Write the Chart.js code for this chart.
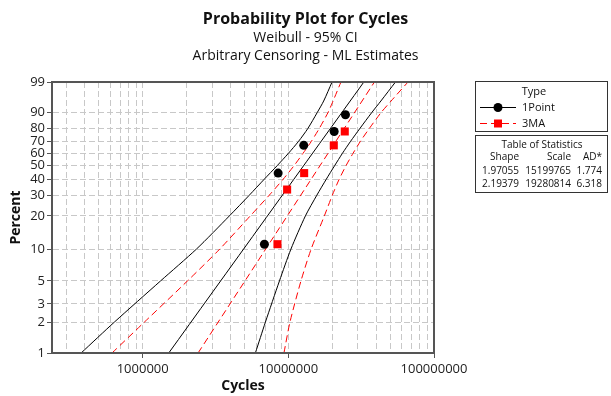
<!doctype html>
<html lang="en">
  <head>
    <meta charset="utf-8">
    <title>Probability Plot for Cycles</title>
    <style>
      * {
        margin: 0;
        padding: 0;
      }
      body {
        background: #ffffff;
      }
    </style>
  </head>
  <body>
    <canvas id="myChart" width="611" height="396"></canvas>
    <script src="https://cdn.jsdelivr.net/npm/chart.js"></script>
    <script>
    // values
    const xLabels = [1000000, 10000000, 100000000];
    const yTicks = [1, 2, 3, 5, 10, 20, 30, 40, 50, 60, 70, 80, 90, 99];

    const onePointCycles = [6.85e6, 8.51e6, 1.276e7, 2.064e7, 2.467e7];
    const onePointPct = [11.1, 44.4, 66.7, 77.8, 88.9];
    const threeMaCycles = [8.42e6, 9.81e6, 1.284e7, 2.051e7, 2.44e7];
    const threeMaPct = [11.1, 33.3, 44.4, 66.7, 77.8];

    // fitted lines (ends at 1% and 99%)
    const fitPct = [1, 99];
    const onePointFit = [1.51e6, 3.30e7];
    const threeMaFit = [2.40e6, 3.90e7];

    // 95% CI bands, read at the percent grid
    const bandPct = [1, 2, 5, 10, 20, 30, 40, 50, 60, 70, 80, 90, 95, 99];
    const onePointLo = [3.78e5, 6.39e5, 1.327e6, 2.34e6, 3.94e6, 5.40e6, 6.83e6, 8.37e6, 1.0e7, 1.175e7, 1.361e7, 1.577e7, 1.748e7, 1.996e7];
    const onePointHi = [5.94e6, 6.96e6, 8.69e6, 1.042e7, 1.31e7, 1.57e7, 1.821e7, 2.077e7, 2.349e7, 2.674e7, 3.098e7, 3.734e7, 4.318e7, 5.44e7];
    const threeMaLo = [6.16e5, 1.027e6, 2.031e6, 3.38e6, 5.48e6, 7.40e6, 9.21e6, 1.093e7, 1.26e7, 1.439e7, 1.63e7, 1.87e7, 2.028e7, 2.297e7];
    const threeMaHi = [9.33e6, 1.026e7, 1.221e7, 1.434e7, 1.767e7, 2.005e7, 2.233e7, 2.486e7, 2.778e7, 3.123e7, 3.595e7, 4.325e7, 5.074e7, 6.63e7];

    const seriesNames = ['1Point', '3MA'];
    const statsShape = [1.97055, 2.19379];
    const statsScale = [15199765, 19280814];
    const statsAD = [1.774, 6.318];

    const FONT = '"Open Sans", "Noto Sans", sans-serif';
    const black = '#000000';
    const red = '#ff0000';

    // weibull probability scale for the y axis
    const wb = p => Math.log(-Math.log(1 - p / 100));
    class WeibullScale extends Chart.LinearScale {
      buildTicks() {
        return yTicks.map(v => ({ value: v }));
      }
      getPixelForValue(v) {
        const lo = wb(this.min), hi = wb(this.max);
        return this.getPixelForDecimal((wb(v) - lo) / (hi - lo));
      }
      getValueForPixel(px) {
        const lo = wb(this.min), hi = wb(this.max);
        const w = lo + this.getDecimalForPixel(px) * (hi - lo);
        return 100 * (1 - Math.exp(-Math.exp(w)));
      }
    }
    WeibullScale.id = 'weibull';
    WeibullScale.defaults = Chart.LinearScale.defaults;
    Chart.register(WeibullScale);

    const pts = (xs, ys) => xs.map((x, i) => ({ x: x, y: ys[i] }));

    // minor grid for the log axis: 2..9 in each decade
    const xGrid = [];
    [1e5, 1e6, 1e7].forEach(d => {
      for (let k = 1; k <= 9; k++) {
        if (k * d >= 3e5) xGrid.push(k * d);
      }
    });
    xGrid.push(1e8);

    // legend boxes + frame
    const keyPlugin = {
      id: 'keyBoxes',
      afterDraw(chart) {
        const ctx = chart.ctx;
        const a = chart.chartArea;
        ctx.save();
        ctx.strokeStyle = '#555';
        ctx.lineWidth = 2;
        ctx.strokeRect(a.left, a.top, a.right - a.left, a.bottom - a.top);

        ctx.lineWidth = 1;
        ctx.strokeStyle = '#333';
        ctx.strokeRect(475.5, 81.5, 132, 50);
        ctx.fillStyle = '#111';
        ctx.font = '11px ' + FONT;
        ctx.textBaseline = 'middle';
        ctx.textAlign = 'center';
        ctx.fillText('Type', 534, 92);

        ctx.textAlign = 'left';
        seriesNames.forEach((name, i) => {
          const y = 107.5 + i * 16;
          const col = i === 0 ? black : red;
          ctx.strokeStyle = col;
          ctx.setLineDash(i === 0 ? [] : [7, 4]);
          ctx.beginPath();
          ctx.moveTo(480, y);
          ctx.lineTo(516, y);
          ctx.stroke();
          ctx.setLineDash([]);
          ctx.fillStyle = col;
          if (i === 0) {
            ctx.beginPath();
            ctx.arc(498, y, 4.5, 0, Math.PI * 2);
            ctx.fill();
          } else {
            ctx.fillRect(494, y - 4, 8, 8);
          }
          ctx.fillStyle = '#111';
          ctx.fillText(name, 522, y);
        });

        ctx.strokeStyle = '#333';
        ctx.strokeRect(475.5, 135.5, 132, 57);
        ctx.font = '10px ' + FONT;
        ctx.textAlign = 'center';
        ctx.fillText('Table of Statistics', 542, 145);
        ctx.textAlign = 'right';
        ctx.fillText('Shape', 519, 157.5);
        ctx.fillText('Scale', 571, 157.5);
        ctx.fillText('AD*', 602, 157.5);
        seriesNames.forEach((name, i) => {
          const y = 171.5 + i * 12.5;
          ctx.fillText(statsShape[i].toFixed(5), 519, y);
          ctx.fillText(String(statsScale[i]), 571, y);
          ctx.fillText(statsAD[i].toFixed(3), 602, y);
        });
        ctx.restore();
      }
    };

    const lineSet = (label, xs, ys, col, dash) => ({
      label: label,
      data: pts(xs, ys),
      showLine: true,
      borderColor: col,
      borderWidth: 1,
      borderDash: dash,
      pointRadius: 0,
      fill: false,
      tension: 0.25
    });

    const data = {
      datasets: [
        {
          label: '1Point',
          data: pts(onePointCycles, onePointPct),
          pointStyle: 'circle',
          pointRadius: 4.5,
          backgroundColor: black,
          borderColor: black,
          borderWidth: 0
        },
        {
          label: '3MA',
          data: pts(threeMaCycles, threeMaPct),
          pointStyle: 'rect',
          pointRadius: 5.7,
          backgroundColor: red,
          borderColor: red,
          borderWidth: 0
        },
        lineSet('1Point fit', onePointFit, fitPct, black, []),
        lineSet('1Point lower', onePointLo, bandPct, black, []),
        lineSet('1Point upper', onePointHi, bandPct, black, []),
        lineSet('3MA fit', threeMaFit, fitPct, red, [7, 4]),
        lineSet('3MA lower', threeMaLo, bandPct, red, [7, 4]),
        lineSet('3MA upper', threeMaHi, bandPct, red, [7, 4])
      ]
    };

    const config = {
      type: 'scatter',
      data,
      options: {
        responsive: false,
        animation: false,
        layout: { padding: 0 },
        plugins: {
          legend: { display: false },
          tooltip: { enabled: false },
          title: {
            display: true,
            text: 'Probability Plot for Cycles',
            color: '#111',
            font: { family: FONT, size: 16, weight: 'bold', lineHeight: 1.2 },
            padding: { top: 10, bottom: 0 }
          },
          subtitle: {
            display: true,
            text: ['Weibull - 95% CI', 'Arbitrary Censoring - ML Estimates'],
            color: '#111',
            font: { family: FONT, size: 14, lineHeight: 1.286 },
            padding: { top: 0, bottom: 16.8 }
          }
        },
        scales: {
          x: {
            type: 'logarithmic',
            min: 238500,
            max: 100000000,
            afterBuildTicks: s => { s.ticks = xGrid.map(v => ({ value: v })); },
            afterFit: s => { s.height = 43; },
            ticks: {
              autoSkip: false,
              maxRotation: 0,
              color: '#222',
              font: { family: FONT, size: 13 },
              padding: 3,
              callback: v => (xLabels.includes(v) ? String(v) : '')
            },
            grid: {
              color: '#c8c8c8',
              lineWidth: 1,
              tickLength: 5,
              tickColor: c => (c.tick && xLabels.includes(c.tick.value) ? '#555' : 'rgba(0,0,0,0)')
            },
            border: { display: true, color: '#555', width: 2, dash: [6, 3] },
            title: {
              display: true,
              text: 'Cycles',
              color: '#111',
              font: { family: FONT, size: 14, weight: 'bold' },
              padding: { top: 0, bottom: 2 }
            }
          },
          y: {
            type: 'weibull',
            min: 1,
            max: 99,
            afterFit: s => { s.width = 52; },
            ticks: {
              autoSkip: false,
              color: '#222',
              font: { family: FONT, size: 13 },
              padding: 2,
              callback: v => String(v)
            },
            grid: { color: '#c8c8c8', lineWidth: 1, tickLength: 5, tickColor: '#555' },
            border: { display: true, color: '#555', width: 2, dash: [6, 3] },
            title: {
              display: true,
              text: 'Percent',
              color: '#111',
              font: { family: FONT, size: 14, weight: 'bold' },
              padding: { top: 8, bottom: 0 }
            }
          },
          // empty right-hand strip that holds the legend boxes
          side: {
            type: 'linear',
            position: 'right',
            afterFit: s => { s.width = 177; },
            ticks: { display: false },
            grid: { display: false, drawTicks: false },
            border: { display: false }
          }
        }
      },
      plugins: [keyPlugin]
    };

    const myChart = new Chart(document.getElementById('myChart'), config);
    </script>
  </body>
</html>
